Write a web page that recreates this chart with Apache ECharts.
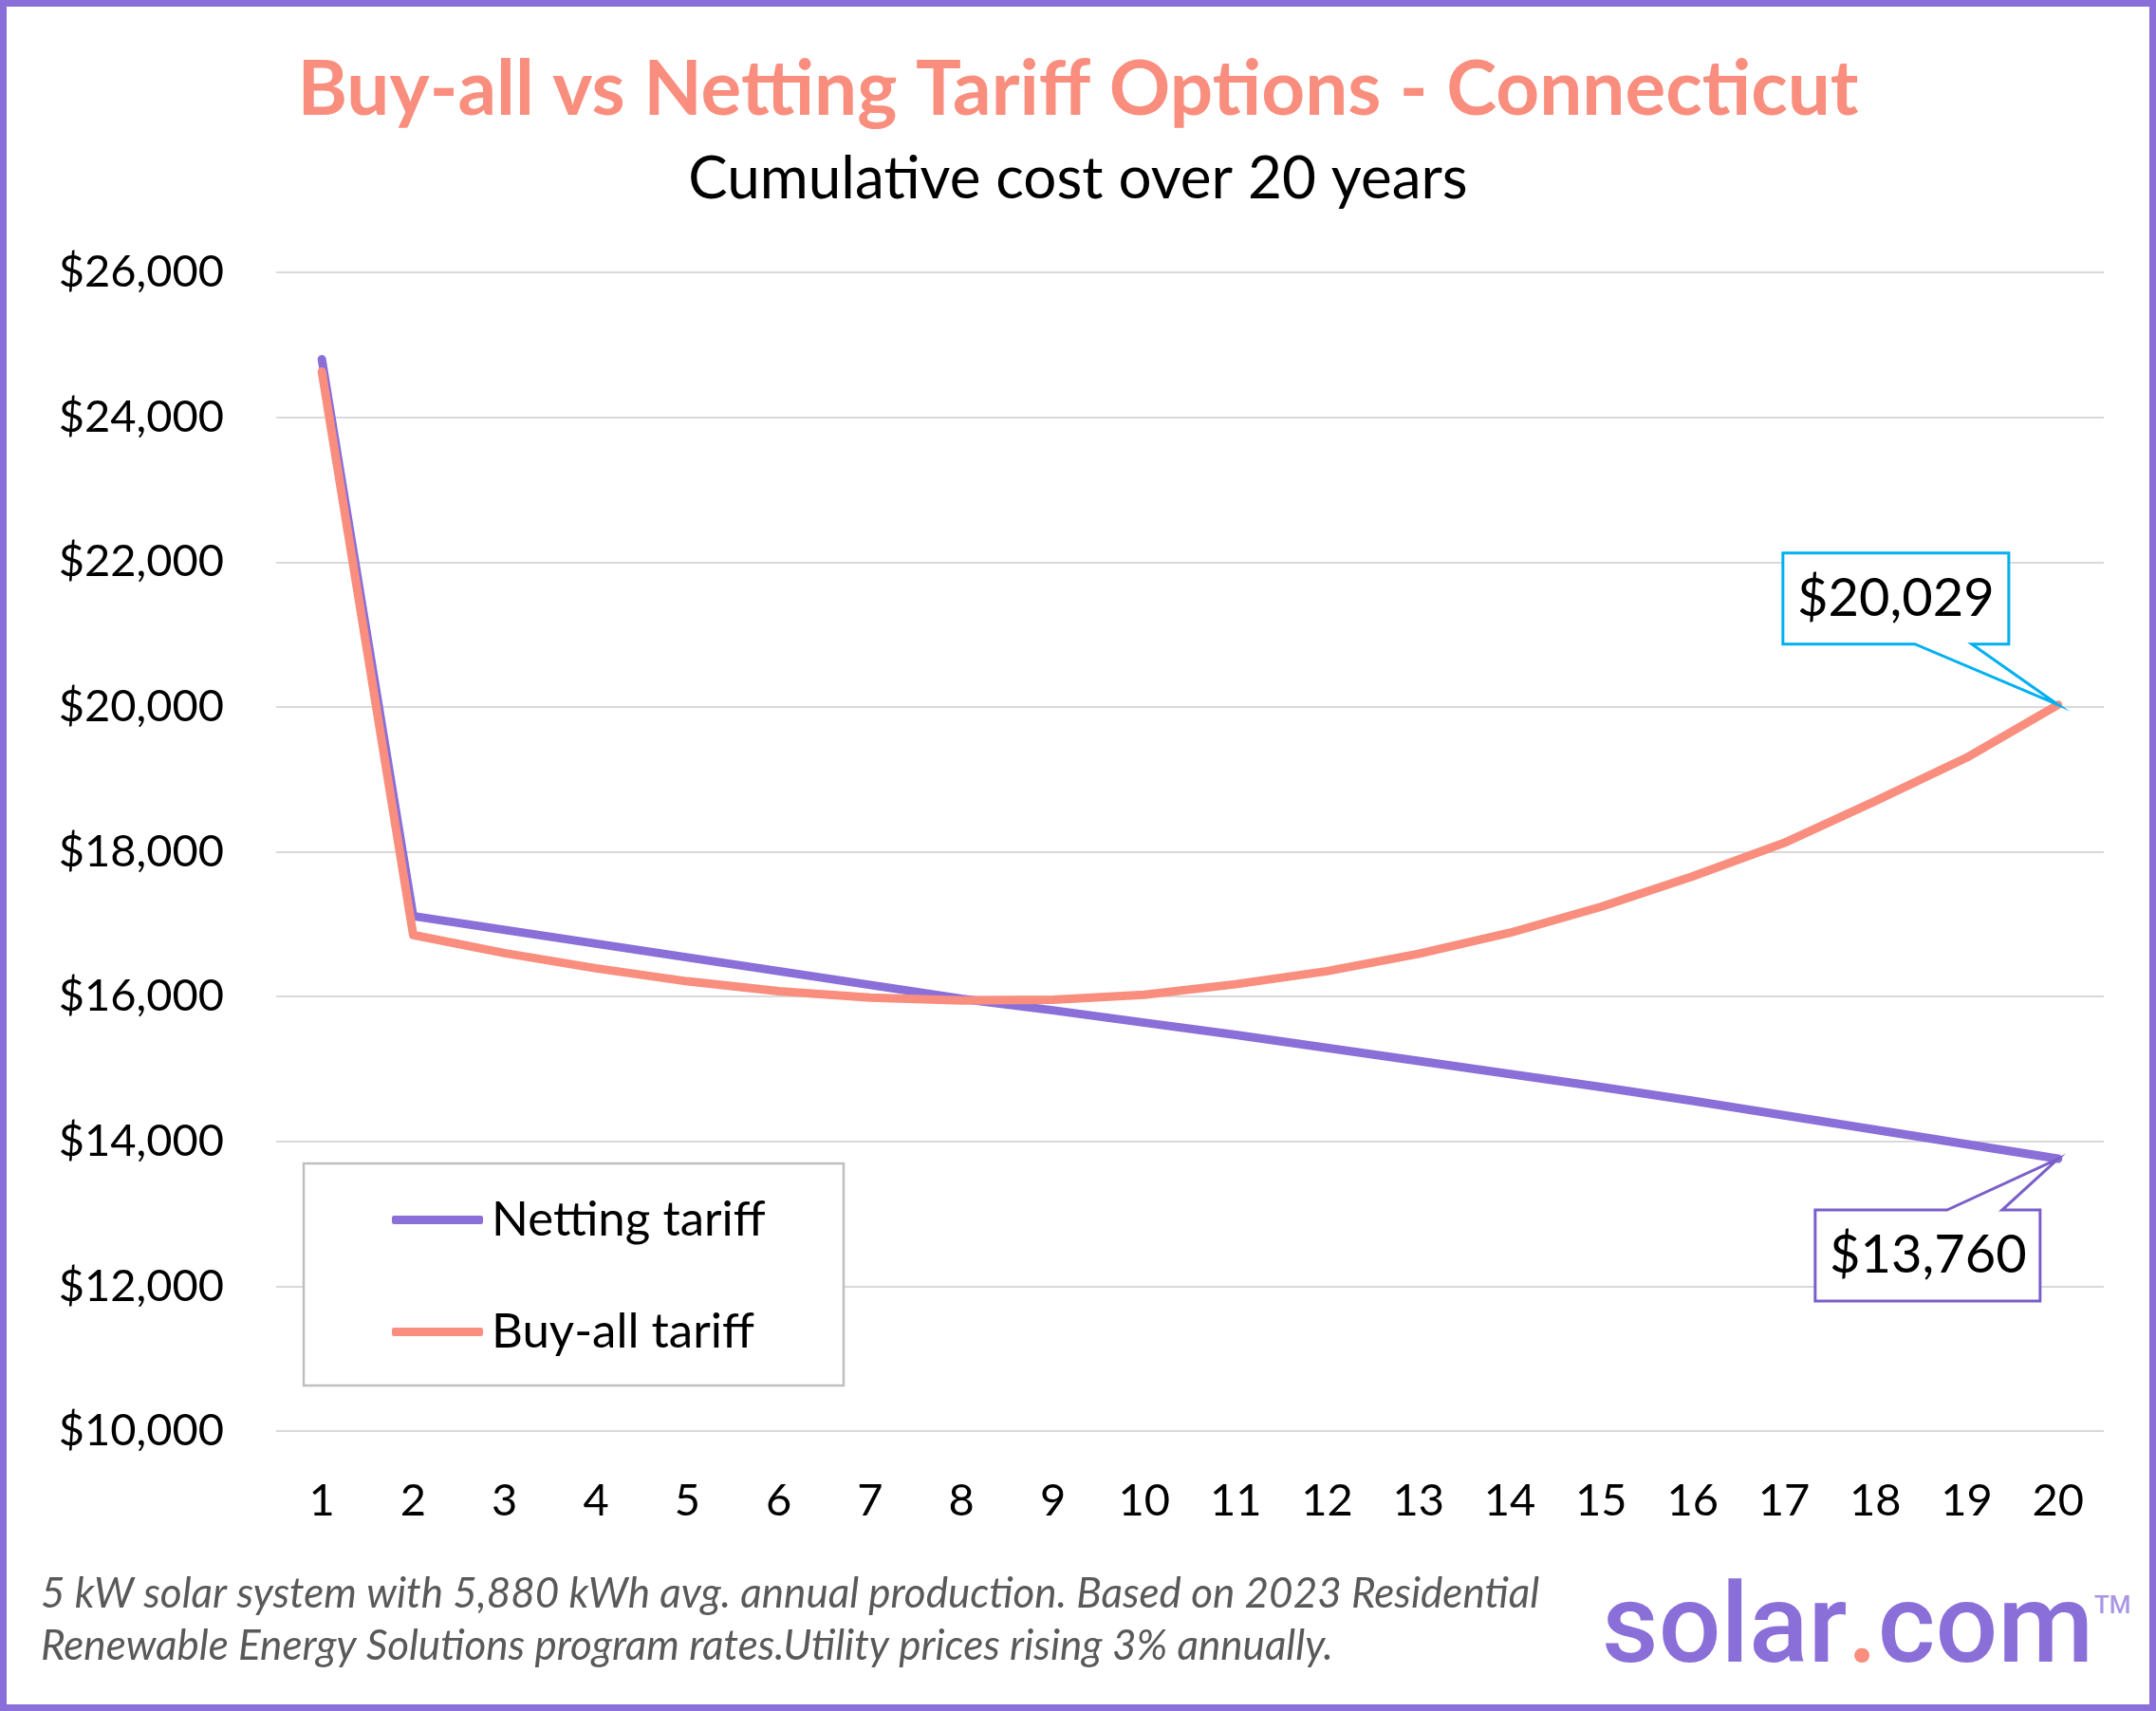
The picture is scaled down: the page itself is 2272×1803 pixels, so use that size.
<!DOCTYPE html>
<html>
<head>
<meta charset="utf-8">
<title>Buy-all vs Netting Tariff Options - Connecticut</title>
<script src="https://cdn.jsdelivr.net/npm/echarts@6/dist/echarts.min.js"></script>
<style>
  html, body { margin: 0; padding: 0; background: #fff; }
  #chart { width: 2272px; height: 1803px; }
</style>
</head>
<body>
<div id="chart"></div>
<script>
// year of ownership
const years = ['1', '2', '3', '4', '5', '6', '7', '8', '9', '10',
  '11', '12', '13', '14', '15', '16', '17', '18', '19', '20'];

// cumulative cost, $
const nettingTariff = [24800, 17110, 16920, 16730, 16540, 16350, 16160, 15970, 15810, 15640,
  15470, 15290, 15110, 14930, 14750, 14560, 14360, 14160, 13960, 13760];
const buyAllTariff = [24630, 16850, 16600, 16390, 16210, 16075, 15985, 15945, 15955, 16025,
  16170, 16350, 16590, 16880, 17240, 17660, 18120, 18700, 19300, 20029];

const yMin = 10000;
const yMax = 26000;
const yStep = 2000;

const purple = '#8A6FD9';
const salmon = '#F98E7E';
const font = 'Lato';

const money = v => '$' + Math.round(v).toLocaleString('en-US');

const chart = echarts.init(document.getElementById('chart'), null, { renderer: 'canvas' });

chart.setOption({
  animation: false,
  backgroundColor: '#fff',
  title: [
    {
      text: 'Buy-all vs Netting Tariff Options - Connecticut',
      left: 'center',
      top: 50,
      textStyle: { fontFamily: font, fontSize: 80, fontWeight: 'bold', color: salmon }
    },
    {
      text: 'Cumulative cost over 20 years',
      left: 'center',
      top: 153,
      textStyle: { fontFamily: font, fontSize: 62, fontWeight: 'normal', color: '#000' }
    }
  ],
  legend: {
    orient: 'vertical',
    left: 413,
    top: 1260,
    padding: 0,
    itemWidth: 96,
    itemHeight: 9,
    itemGap: 67,
    icon: 'roundRect',
    textStyle: { fontFamily: font, fontSize: 51, lineHeight: 50, color: '#000', padding: [0, 0, 0, 4] },
    data: ['Netting tariff', 'Buy-all tariff'],
    z: 6
  },
  grid: { left: 291, right: 55, top: 287, bottom: 295 },
  xAxis: {
    type: 'category',
    data: years,
    boundaryGap: true,
    axisLine: { show: false },
    axisTick: { show: false },
    axisLabel: { fontFamily: font, fontSize: 47, color: '#000', margin: 50 }
  },
  yAxis: {
    type: 'value',
    min: yMin,
    max: yMax,
    interval: yStep,
    axisLine: { show: false },
    axisTick: { show: false },
    axisLabel: { fontFamily: font, fontSize: 47, color: '#000', margin: 55, formatter: money },
    splitLine: { lineStyle: { color: '#D9D9D9', width: 2 } }
  },
  series: [
    {
      name: 'Netting tariff',
      type: 'line',
      data: nettingTariff,
      showSymbol: false,
      symbol: 'none',
      itemStyle: { color: purple },
      lineStyle: { color: purple, width: 9, cap: 'round', join: 'round' }
    },
    {
      name: 'Buy-all tariff',
      type: 'line',
      data: buyAllTariff,
      showSymbol: false,
      symbol: 'none',
      itemStyle: { color: salmon },
      lineStyle: { color: salmon, width: 9, cap: 'round', join: 'round' }
    }
  ]
});

// callouts hang off the last point of each line
const last = years.length - 1;
const [bx, by] = chart.convertToPixel({ seriesIndex: 1 }, [last, buyAllTariff[last]]);
const [nx, ny] = chart.convertToPixel({ seriesIndex: 0 }, [last, nettingTariff[last]]);

const graphics = [
  // page frame
  {
    type: 'rect',
    shape: { x: 3.5, y: 3.5, width: 2265, height: 1796 },
    style: { fill: null, stroke: purple, lineWidth: 7 },
    z: 10
  },
  // legend frame
  {
    type: 'rect',
    shape: { x: 320, y: 1226, width: 569, height: 234 },
    style: { fill: '#fff', stroke: '#BFBFBF', lineWidth: 2.5 },
    z: 3
  },
  // buy-all callout
  {
    type: 'polygon',
    shape: {
      points: [[bx - 290, by - 160], [bx - 52, by - 160], [bx - 52, by - 64], [bx - 91, by - 64],
        [bx, by], [bx - 151, by - 64], [bx - 290, by - 64]]
    },
    style: { fill: '#fff', stroke: '#00B0F0', lineWidth: 3, lineJoin: 'miter' },
    z: 8
  },
  {
    type: 'text',
    x: bx - 171,
    y: by - 112,
    style: { text: money(buyAllTariff[last]), font: '56px Lato', fill: '#000', align: 'center', verticalAlign: 'middle' },
    z: 9
  },
  // netting callout
  {
    type: 'polygon',
    shape: {
      points: [[nx - 256, ny + 54], [nx - 117, ny + 54], [nx, ny], [nx - 59, ny + 54],
        [nx - 19, ny + 54], [nx - 19, ny + 150], [nx - 256, ny + 150]]
    },
    style: { fill: '#fff', stroke: '#7B5FC9', lineWidth: 3, lineJoin: 'miter' },
    z: 8
  },
  {
    type: 'text',
    x: nx - 137,
    y: ny + 102,
    style: { text: money(nettingTariff[last]), font: '56px Lato', fill: '#000', align: 'center', verticalAlign: 'middle' },
    z: 9
  },
  // footnote
  {
    type: 'text',
    left: 43,
    top: 1652,
    style: {
      text: '5 kW solar system with 5,880 kWh avg. annual production. Based on 2023 Residential\n' +
        'Renewable Energy Solutions program rates.Utility prices rising 3% annually.',
      font: 'italic 44px Lato',
      lineHeight: 55,
      fill: '#595959'
    },
    z: 9
  },
  // logo
  {
    type: 'text',
    left: 1688,
    top: 1664,
    style: {
      text: '{a|solar}{b|.}{a|com}',
      rich: {
        a: { fill: purple, fontFamily: 'Roboto', fontWeight: 500, fontSize: 116 },
        b: { fill: salmon, fontFamily: 'Roboto', fontWeight: 500, fontSize: 116 }
      }
    },
    z: 9
  },
  {
    type: 'text',
    left: 2207,
    top: 1680,
    style: { text: 'TM', font: '500 26px Roboto', fill: '#A996E4' },
    z: 9
  }
];

chart.setOption({ graphic: graphics });
</script>
</body>
</html>
